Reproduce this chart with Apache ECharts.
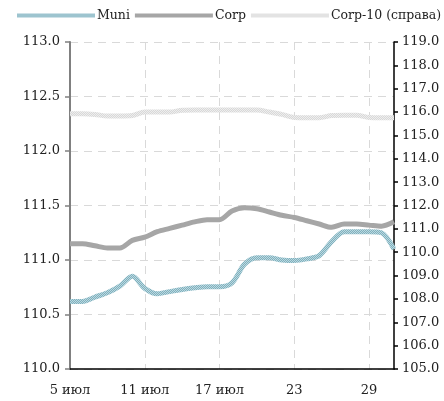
<!DOCTYPE html>
<html><head><meta charset="utf-8">
<script src="https://cdn.jsdelivr.net/npm/echarts@6/dist/echarts.min.js"></script>
<style>html,body{margin:0;padding:0;background:#fff}#c{width:444px;height:401px}</style>
</head><body><div id="c"></div>
<script>
const categories = ['5 июл','6','7','8','9','10','11 июл','12','13','14','15','16','17 июл','18','19','20','21','22','23','24','25','26','27','28','29','30','31'];
const muni = [110.62,110.62,110.66,110.70,110.76,110.85,110.74,110.69,110.71,110.73,110.745,110.755,110.755,110.79,110.96,111.02,111.02,111.00,110.995,111.01,111.04,111.17,111.26,111.26,111.26,111.25,111.10];
const corp = [111.15,111.15,111.13,111.11,111.11,111.18,111.21,111.26,111.29,111.32,111.35,111.37,111.37,111.45,111.48,111.47,111.44,111.41,111.39,111.36,111.33,111.30,111.33,111.33,111.32,111.31,111.35];
const corp10 = [115.93,115.93,115.90,115.83,115.83,115.85,116.0,116.0,116.0,116.08,116.09,116.09,116.09,116.09,116.09,116.09,116.0,115.9,115.77,115.76,115.76,115.85,115.86,115.86,115.77,115.76,115.76];
const seriesNames = ['Muni','Corp','Corp-10 (справа)'];

function pattern(c1, c2) {
  const cv = document.createElement('canvas');
  cv.width = 2; cv.height = 2;
  const g = cv.getContext('2d');
  g.fillStyle = c1; g.fillRect(0,0,2,2);
  g.fillStyle = c2; g.fillRect(0,0,1,1); g.fillRect(1,1,1,1);
  return {image: cv, repeat: 'repeat'};
}
const muniColor = pattern('#7fb1be', '#bcd8e0');
const corp10Color = pattern('#d8d8d8', '#eeeeee');

const font = 'DejaVu Serif';
const chart = echarts.init(document.getElementById('c'));
chart.setOption({
  animation: false,
  textStyle: {fontFamily: font},
  legend: {
    left: 17, top: 9, padding: 0, itemGap: 5, itemWidth: 78, itemHeight: 4, icon: 'rect',
    textStyle: {fontFamily: font, fontSize: 12.5, color: '#222', padding: [0,0,0,-3]},
    data: seriesNames
  },
  grid: {left: 70, right: 50, top: 42, bottom: 32, containLabel: false},
  xAxis: {
    type: 'category', data: categories, boundaryGap: false,
    axisLine: {lineStyle: {color: '#000', width: 1.5}},
    axisTick: {show: false},
    axisLabel: {interval: 5, margin: 15, fontFamily: font, fontSize: 13, color: '#222'},
    splitLine: {show: true, interval: 5, lineStyle: {color: '#d9d9d9', type: [8,6], width: 1}}
  },
  yAxis: [{
    type: 'value', min: 110, max: 113, interval: 0.5, position: 'left',
    axisLine: {show: true, lineStyle: {color: '#808080', width: 2}},
    axisTick: {show: true, length: 5, lineStyle: {color: '#808080', width: 1.5}},
    axisLabel: {margin: 10, fontFamily: font, fontSize: 13, color: '#222', formatter: v => v.toFixed(1)},
    splitLine: {show: true, lineStyle: {color: '#d9d9d9', type: [8,6], width: 1}}
  }, {
    type: 'value', min: 105, max: 119, interval: 1, position: 'right',
    axisLine: {show: true, lineStyle: {color: '#000', width: 1.5}},
    axisTick: {show: true, length: 4, lineStyle: {color: '#000', width: 1.5}},
    axisLabel: {margin: 8, fontFamily: font, fontSize: 13, color: '#222', formatter: v => v.toFixed(1)},
    splitLine: {show: false}
  }],
  series: [
    {name: seriesNames[2], type: 'line', yAxisIndex: 1, data: corp10, showSymbol: false, smooth: 0.3,
     color: corp10Color, lineStyle: {width: 5, color: corp10Color}, z: 1},
    {name: seriesNames[1], type: 'line', yAxisIndex: 0, data: corp, showSymbol: false, smooth: 0.3,
     color: '#a6a6a6', lineStyle: {width: 5, color: '#a6a6a6'}, z: 2},
    {name: seriesNames[0], type: 'line', yAxisIndex: 0, data: muni, showSymbol: false, smooth: 0.3,
     color: muniColor, lineStyle: {width: 5, color: muniColor}, z: 3}
  ]
});
</script></body></html>
